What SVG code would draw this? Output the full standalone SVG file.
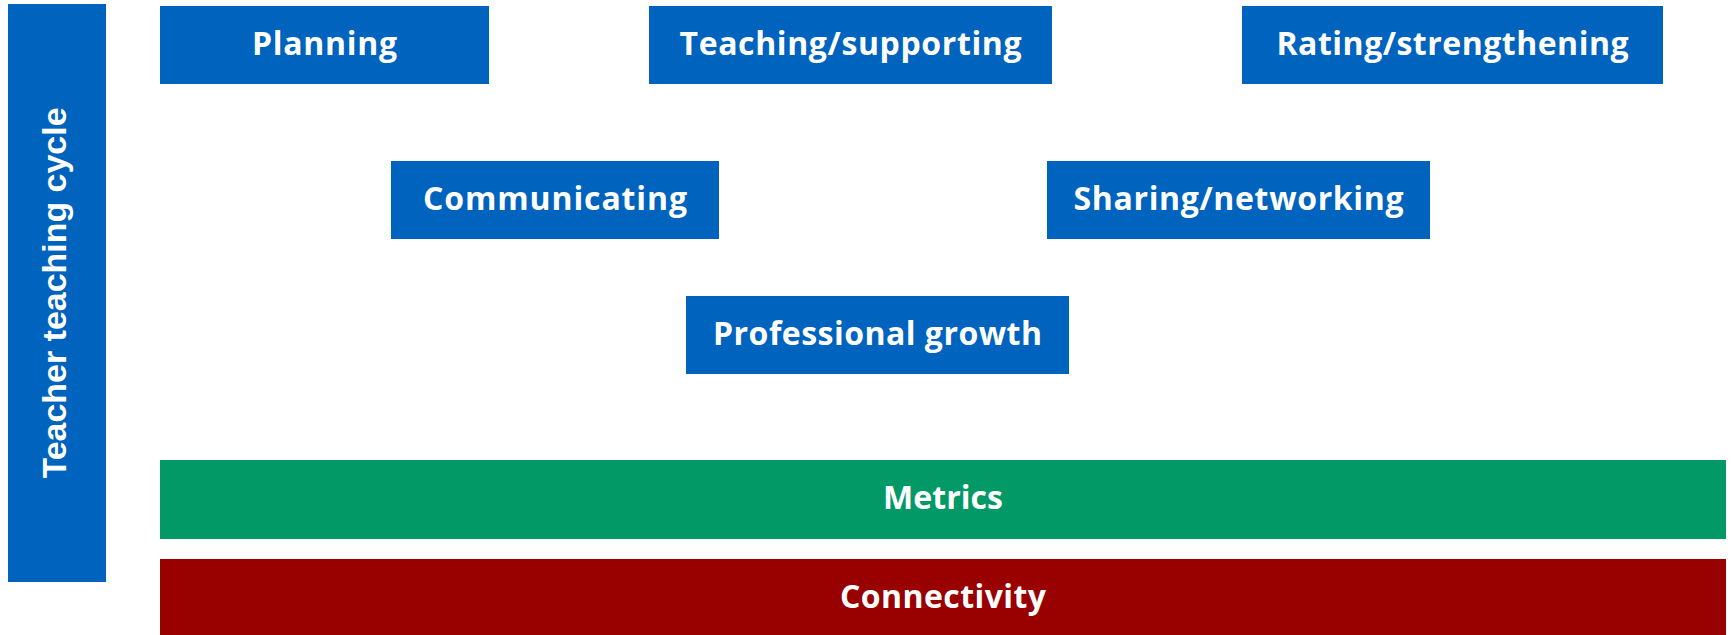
<svg xmlns="http://www.w3.org/2000/svg" width="1731" height="635" viewBox="0 0 1731 635">
<style>
.box{fill:#0063BE}
.t{font-family:"Open Sans","Liberation Sans",sans-serif;font-weight:700;font-size:32px;fill:#fff;text-anchor:middle;dominant-baseline:central}
.side{font-family:"Liberation Sans",Arial,sans-serif;font-weight:700;font-size:33px;fill:#fff;text-anchor:middle;dominant-baseline:central}
</style>
<rect width="1731" height="635" fill="#fff"/>
<g id="sidebar">
<rect class="box" x="8" y="4" width="98" height="578"/>
<text class="side" transform="translate(54 293) rotate(-90)" textLength="371" lengthAdjust="spacingAndGlyphs">Teacher teaching cycle</text>
</g>
<g id="planning">
<rect class="box" x="160" y="6" width="329" height="78"/>
<text class="t" x="324.5" y="42" textLength="145">Planning</text>
</g>
<g id="teaching">
<rect class="box" x="649" y="6" width="403" height="78"/>
<text class="t" x="850.5" y="42" textLength="342">Teaching/supporting</text>
</g>
<g id="rating">
<rect class="box" x="1242" y="6" width="421" height="78"/>
<text class="t" x="1452.5" y="42" textLength="352">Rating/strengthening</text>
</g>
<g id="communicating">
<rect class="box" x="391" y="161" width="328" height="78"/>
<text class="t" x="555" y="197" textLength="264">Communicating</text>
</g>
<g id="sharing">
<rect class="box" x="1047" y="161" width="383" height="78"/>
<text class="t" x="1238.5" y="197" textLength="330">Sharing/networking</text>
</g>
<g id="growth">
<rect class="box" x="686" y="296" width="383" height="78"/>
<text class="t" x="877.5" y="332" textLength="329">Professional growth</text>
</g>
<g id="metrics">
<rect x="160" y="460" width="1566" height="79" fill="#029966"/>
<text class="t" x="943" y="496" textLength="120">Metrics</text>
</g>
<g id="connectivity">
<rect x="160" y="559" width="1566" height="76" fill="#990000"/>
<text class="t" x="943" y="595" textLength="206">Connectivity</text>
</g>
<g id="connectors"></g>
</svg>
